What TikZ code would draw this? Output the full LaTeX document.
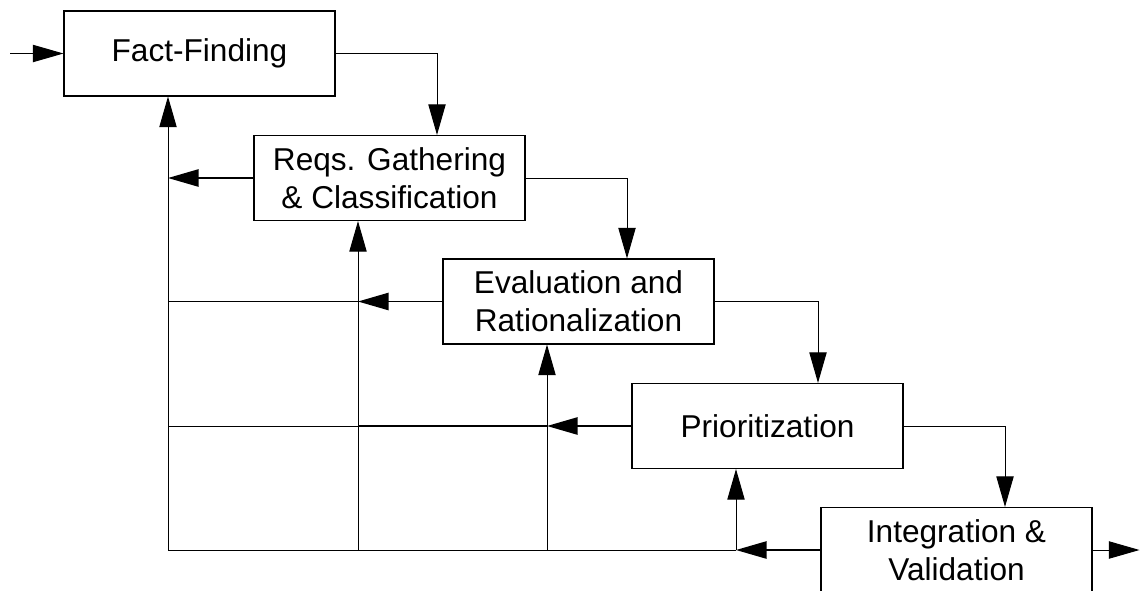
\documentclass[tikz,border=0pt]{standalone}
\usepackage{fontspec}
\setmainfont{Liberation Sans}
\usetikzlibrary{arrows.meta,calc}
\begin{document}
\begin{tikzpicture}[x=0.75pt,y=-0.75pt,
  stage/.style={draw, line width=0.8pt, minimum width=203.25pt, minimum height=63.75pt,
    inner sep=0pt, align=center, font=\fontsize{23.7}{28.5}\selectfont},
  tip/.style={-{Triangle[length=23pt,width=13pt]}},
  flow/.style={tip, line width=0.75pt},
  fb/.style={tip, line width=1.2pt},
  wire/.style={line width=0.75pt},
  thickwire/.style={line width=1.2pt}]
\clip (0,0) rectangle (1140,590);
\useasboundingbox (0,0) rectangle (1140,590);
\node[stage] (FF) at (199.5,53.5) {Fact-Finding};
\node[stage] (Reqs) at (389.5,178) {Reqs. Gathering\\\& Classification};
\node[stage] (Eval) at (578.5,301.5) {Evaluation and\\Rationalization};
\node[stage] (Prior) at (767.5,426) {Prioritization};
\node[stage] (Integ) at (956.5,550) {Integration \&\\Validation};
% forward flow
\coordinate (in) at (10,53.5);
\coordinate (out) at ($(Integ.east)+(47,0)$);
\draw[flow] (in) -- (FF.west);
\draw[flow] (FF.east) -| ($(Reqs.north)+(47.5,0)$);
\draw[flow] (Reqs.east) -| ($(Eval.north)+(48.5,0)$);
\draw[flow] (Eval.east) -| ($(Prior.north)+(50.5,0)$);
\draw[flow] (Prior.east) -| ($(Integ.north)+(48.5,0)$);
\draw[flow] (Integ.east) -- (out);
% feedback columns
\coordinate (b1) at ($(FF.south)+(-31.5,0)$);
\coordinate (b2) at ($(Reqs.south)+(-31.5,0)$);
\coordinate (b3) at ($(Eval.south)+(-31.5,0)$);
\coordinate (b4) at ($(Prior.south)+(-31.5,0)$);
\draw[wire] (Integ.west -| b1) -- (Integ.west -| b4);
\draw[wire] (Eval.west -| b1) -- (Eval.west -| b2);
\draw[wire] (Prior.west -| b1) -- (Prior.west -| b2);
\draw[thickwire] (Prior.west -| b2) -- (Prior.west -| b3);
\draw[flow] (Integ.west -| b1) -- (b1);
\draw[flow] (Integ.west -| b2) -- (b2);
\draw[flow] (Integ.west -| b3) -- (b3);
\draw[flow] (Integ.west -| b4) -- (b4);
\draw[fb] (Reqs.west) -- (Reqs.west -| b1);
\draw[fb] (Eval.west) -- (Eval.west -| b2);
\draw[fb] (Prior.west) -- (Prior.west -| b3);
\draw[fb] (Integ.west) -- (Integ.west -| b4);
\end{tikzpicture}
\end{document}
